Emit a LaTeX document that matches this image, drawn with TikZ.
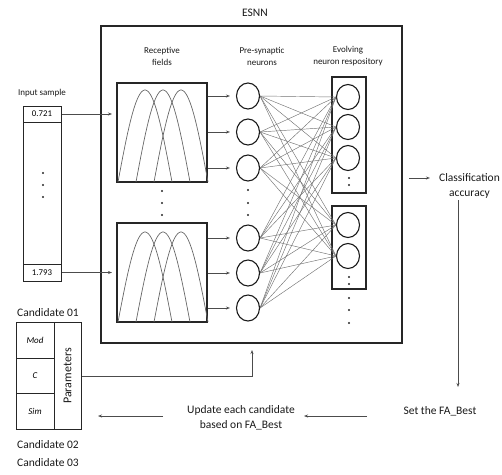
\documentclass[tikz,border=0pt]{standalone}
\usepackage{fontspec}
\setmainfont{Carlito}
\usetikzlibrary{shapes.geometric,arrows.meta}
\begin{document}
\begin{tikzpicture}[x=1pt,y=-1pt,
  frame/.style={draw=black!85, line width=1.3pt, inner sep=0pt},
  cell/.style={draw=black!85, line width=1pt, inner sep=0pt},
  neuron/.style={draw=black!90, ellipse, line width=1.1pt, minimum width=23pt, minimum height=26pt, inner sep=0pt},
  link/.style={draw=black!55, line width=0.45pt},
  flow/.style={-{Stealth[length=4pt,width=3pt]}, line width=0.6pt, draw=black!70},
  curve/.style={draw=black!60, line width=0.7pt},
  lab/.style={font=\fontsize{9}{12}\selectfont, align=center, text=black!90},
  big/.style={font=\fontsize{11.5}{14.5}\selectfont, align=center, text=black!90},
  dot/.style={circle, fill=black!85, inner sep=0pt, minimum size=2.4pt}
]
\useasboundingbox (0,0) rectangle (502,474);

% ESNN frame and column headings
\node[frame, minimum width=301pt, minimum height=317pt] (esnn) at (251.5,184.5) {};
\node[big] (esnnlab) at (255,13) {ESNN};
\node[lab] (hrf) at (162,56) {Receptive\\fields};
\node[lab] (hpre) at (262,56) {Pre-synaptic\\neurons};
\node[lab] (hevo) at (348,56) {Evolving\\neuron respository};

% input sample vector
\node[lab] (inlab) at (42,93) {Input sample};
\node[cell, minimum width=38pt, minimum height=175pt] (inbox) at (42,193.5) {};
\node[cell, minimum width=38pt, minimum height=16pt, font=\fontsize{8.8}{10}\selectfont] (v1) at (42,114) {0.721};
\node[cell, minimum width=38pt, minimum height=17pt, font=\fontsize{8.8}{10}\selectfont] (v2) at (42,272.5) {1.793};
\foreach \y [count=\k] in {173,185,197} \node[dot] (ind\k) at (43,\y) {};
\coordinate (in1) at (112,114);
\coordinate (in2) at (112,272.5);
\draw[flow] (v1.east) -- (in1);
\draw[flow] (v2.east) -- (in2);

% receptive field boxes with overlapping tuning curves
\node[frame, minimum width=90pt, minimum height=99pt] (rf1) at (162,132.5) {};
\node[frame, minimum width=90pt, minimum height=99pt] (rf2) at (162,272.5) {};
\foreach \s in {0,18,36} {
  \draw[curve] plot[domain=0:180, samples=40] ({118+\s+\x/180*54}, {182-92*sin(\x)});
  \draw[curve] plot[domain=0:180, samples=40] ({118+\s+\x/180*54}, {322-90*sin(\x)});
}
\foreach \y [count=\k] in {191,203,215} \node[dot] (rfd\k) at (162,\y) {};

% pre-synaptic neurons
\foreach \y [count=\k] in {96,132,168,238,273,308} \node[neuron] (p\k) at (248,\y) {};
\foreach \y [count=\k] in {190,203,215} \node[dot] (pd\k) at (248,\y) {};
\foreach \k in {1,2,3} \draw[flow, shorten >=6pt] (p\k.west -| rf1.east) -- (p\k.west);
\foreach \k in {4,5,6} \draw[flow, shorten >=6pt] (p\k.west -| rf2.east) -- (p\k.west);

% evolving neuron repository
\node[frame, minimum width=34pt, minimum height=116pt] (eb1) at (349,135) {};
\node[frame, minimum width=34pt, minimum height=83pt] (eb2) at (349,247.5) {};
\foreach \y [count=\k] in {97,127,158,225,256} \node[neuron, minimum height=25pt] (e\k) at (348,\y) {};
\foreach \y [count=\k] in {178,185,277,284,298,310,323} \node[dot] (ed\k) at (349,\y) {};

% full connectivity between the two layers
\foreach \i in {1,...,6}
  \foreach \j in {1,...,5}
    \draw[link] (p\i.east) -- (e\j.west);

% classification output and feedback loop
\node[big, inner sep=2pt] (acc) at (469.5,186) {Classification\\accuracy};
\coordinate (a0) at (409,178);
\draw[flow, shorten >=7pt] (a0) -- (acc.west |- a0);
\node[big] (fab) at (440,411) {Set the FA\_Best};
\coordinate (v0) at (458,387);
\draw[flow] (acc.south -| v0) -- (v0);
\node[big] (upd) at (241,418) {Update each candidate\\based on FA\_Best};
\coordinate (f0) at (367,416);
\coordinate (f1) at (304,416);
\draw[flow] (f0) -- (f1);
\coordinate (u0) at (163,416);
\coordinate (u1) at (98,416);
\draw[flow] (u0) -- (u1);

% candidate parameter vector
\node[big] (c1) at (48,313) {Candidate 01};
\node[cell, minimum width=38pt, minimum height=35.5pt, font=\fontsize{9}{10}\itshape] (mod) at (35,340.5) {Mod};
\node[cell, minimum width=38pt, minimum height=35.5pt, font=\fontsize{9}{10}\itshape] (cc) at (35,376) {C};
\node[cell, minimum width=38pt, minimum height=35.5pt, font=\fontsize{9}{10}\itshape] (sim) at (35,411.5) {Sim};
\node[cell, minimum width=27pt, minimum height=106.5pt] (par) at (67.5,376) {};
\node[rotate=90, font=\fontsize{12}{14}\selectfont, text=black!90] (partext) at (par.center) {Parameters};
\node[big] (c2) at (48,445) {Candidate 02};
\node[big] (c3) at (48,463) {Candidate 03};
\coordinate (t1) at (252,350);
\draw[flow] (par.east) -| (t1);
\end{tikzpicture}
\end{document}
